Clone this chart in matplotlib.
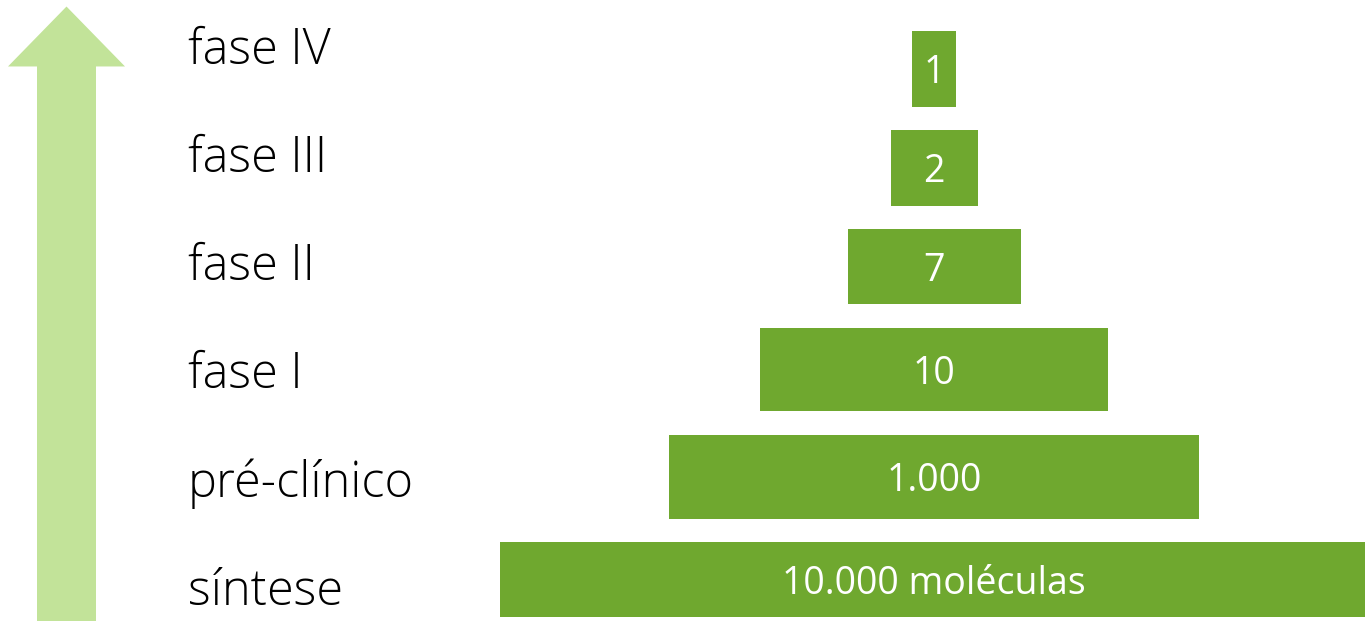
import matplotlib
matplotlib.use("Agg")
import matplotlib.pyplot as plt
import matplotlib.patches as mpatches

# funnel stages, bottom to top
stages = ["síntese", "pré-clínico", "fase I", "fase II", "fase III", "fase IV"]
counts = ["10.000 moléculas", "1.000", "10", "7", "2", "1"]
bar_widths = [868, 530, 348, 173, 87, 44]

green = "#6FA82F"
arrow_green = "#C2E399"

fig = plt.figure(figsize=(13.65, 6.21), dpi=100)
ax = fig.add_axes([0, 0, 1, 1])
ax.set_xlim(0, 1365)
ax.set_ylim(-0.406, 5.676)
ax.axis("off")

center = 934
ypos = [0, 1.004, 2.057, 3.066, 4.031, 5.0]
heights = [0.735, 0.82, 0.81, 0.735, 0.745, 0.735]
lefts = [center - w / 2 for w in bar_widths]
ax.barh(ypos, bar_widths, left=lefts, height=heights, color=green)

for y, txt in zip(ypos, counts):
    ax.text(center, y - 0.04, txt, ha="center", va="center", color="white",
            fontsize=27, family="Open Sans")

for i, name in enumerate(stages):
    ax.text(188, i * 1.06 - 0.12, name, ha="left", va="center", color="black",
            fontsize=35, family="Open Sans", fontweight="light")

# upward arrow on the left
ax.add_patch(mpatches.Polygon(
    [(37, -0.5), (37, 5.025), (8, 5.025), (66.5, 5.612), (125, 5.025),
     (96, 5.025), (96, -0.5)],
    closed=True, color=arrow_green, lw=0))

fig.savefig("out.png", dpi=100)
